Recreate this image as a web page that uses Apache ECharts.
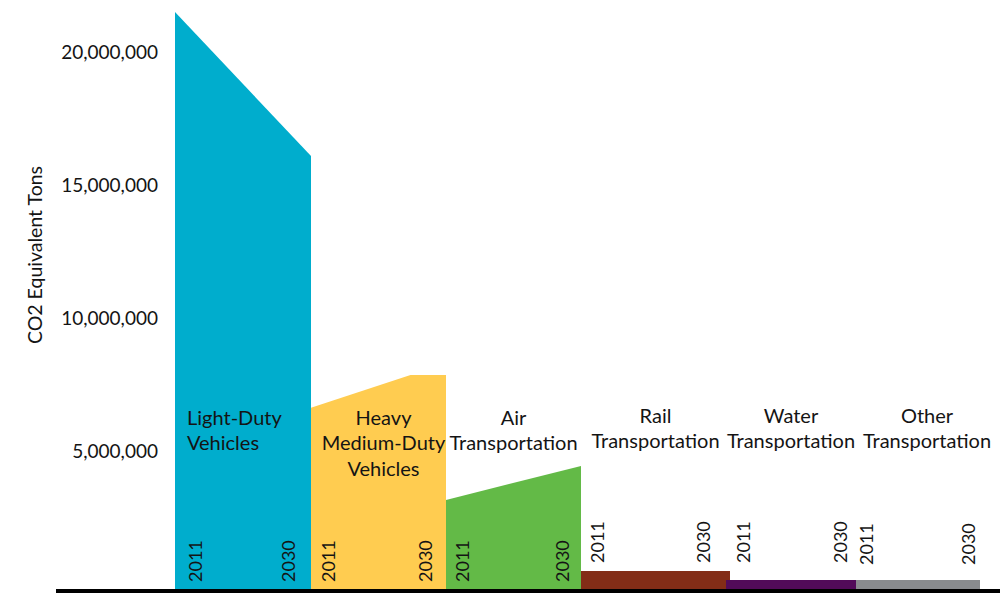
<!DOCTYPE html>
<html>
<head>
<meta charset="utf-8">
<title>Transportation CO2 Equivalent Emissions, 2011 and 2030</title>
<script src="https://cdn.jsdelivr.net/npm/echarts@6/dist/echarts.min.js"></script>
<style>
  html, body { margin: 0; padding: 0; background: #ffffff; }
  #chart { width: 1000px; height: 593px; }
</style>
</head>
<body>
<div id="chart"></div>
<script>
// ---- Data -------------------------------------------------------------
const categories = [
  'Light-Duty Vehicles',
  'Heavy Medium-Duty Vehicles',
  'Air Transportation',
  'Rail Transportation',
  'Water Transportation',
  'Other Transportation'
];
const categoryLines = [
  ['Light-Duty', 'Vehicles'],
  ['Heavy', 'Medium-Duty', 'Vehicles'],
  ['Air', 'Transportation'],
  ['Rail', 'Transportation'],
  ['Water', 'Transportation'],
  ['Other', 'Transportation']
];
const startYear = 2011;
const endYear = 2030;
const yearLabels = ['2011', '2030'];
// CO2 equivalent tons per sector
const emissions2011 = [21500000, 6600000, 3130000, 450000, 110000, 110000];
const emissions2030 = [16080000, 7830000, 4410000, 450000, 110000, 110000];
// heavy/medium-duty reaches its 2030 level around 2025 and stays flat
const heavyPlateau = [2025, 7830000];
const yTickValues = [5000000, 10000000, 15000000, 20000000];
const yAxisTitle = 'CO2 Equivalent Tons';

// ---- Layout & style ---------------------------------------------------
const colors = ['#00ADCD', '#FFCC50', '#63BA47', '#832D17', '#520B59', '#898B8E'];
const panelLeft  = [175, 311, 446, 581, 726, 856];
const panelRight = [311, 446, 581, 730, 856, 980];
const gridTop = 10;
const gridHeight = 579;
const yMin = -225000;
const yMax = 21580000;
const FONT = 'Lato, "Open Sans", "Noto Sans", sans-serif';
const TEXT = '#141414';
// year label offsets from panel edges, and baseline of the year text
const yearOffsets = [[20, -23], [17, -21], [16, -19], [16, -27], [17, -16], [10, -12]];
const yearBottoms = [582, 582, 582, 563, 563, 565];
// category label anchor: x offset from panel centre, top y
const labelDx  = [0, 5, 0, 0, 0, 9];
const labelTop = [404, 404, 404, 402, 402, 402];

const chart = echarts.init(document.getElementById('chart'), null, { renderer: 'svg' });

const grids = [], xAxes = [], yAxes = [], series = [];
categories.forEach((name, i) => {
  grids.push({
    left: panelLeft[i], width: panelRight[i] - panelLeft[i],
    top: gridTop, height: gridHeight,
    containLabel: false, outerBoundsMode: 'none'
  });
  xAxes.push({
    type: 'value', gridIndex: i, min: startYear, max: endYear, show: false
  });
  yAxes.push({
    type: 'value', gridIndex: i, min: yMin, max: yMax,
    show: i === 0,
    axisLine: { show: false },
    axisTick: { show: false },
    splitLine: { show: false },
    axisLabel: {
      show: i === 0,
      customValues: yTickValues,
      margin: 17,
      color: TEXT,
      fontFamily: FONT,
      fontSize: 19,
      formatter: v => Number(v).toLocaleString('en-US')
    }
  });
  const pts = [[startYear, emissions2011[i]]];
  if (i === 1) pts.push(heavyPlateau);
  pts.push([endYear, emissions2030[i]]);
  series.push({
    name: name,
    type: 'line',
    xAxisIndex: i, yAxisIndex: i,
    data: pts,
    symbol: 'none',
    silent: true,
    lineStyle: { width: 0, color: colors[i] },
    itemStyle: { color: colors[i] },
    areaStyle: { color: colors[i], opacity: 1, origin: 'start' },
    z: 2 + i
  });
});

chart.setOption({
  animation: false,
  backgroundColor: '#ffffff',
  grid: grids,
  xAxis: xAxes,
  yAxis: yAxes,
  series: series
});

// ---- Text labels and baseline, placed through the axes' scales --------
const graphics = [];
categories.forEach((name, i) => {
  const pStart = chart.convertToPixel({ gridIndex: i }, [startYear, 0]);
  const pEnd = chart.convertToPixel({ gridIndex: i }, [endYear, 0]);
  const mid = chart.convertToPixel({ gridIndex: i }, [(startYear + endYear) / 2, 0]);
  // rotated year labels
  [pStart[0] + yearOffsets[i][0], pEnd[0] + yearOffsets[i][1]].forEach((x, k) => {
    graphics.push({
      type: 'text', x: x, y: yearBottoms[i], rotation: Math.PI / 2, silent: true, z: 20,
      style: {
        text: yearLabels[k], fill: TEXT, font: '18px ' + FONT,
        textAlign: 'left', textVerticalAlign: 'middle'
      }
    });
  });
  // sector name
  const leftAligned = i === 0;
  graphics.push({
    type: 'text', silent: true, z: 20,
    x: leftAligned ? pStart[0] + 12 : mid[0] + labelDx[i],
    y: labelTop[i],
    style: {
      text: categoryLines[i].join('\n'), fill: TEXT, font: '20px ' + FONT,
      lineHeight: 25.5,
      textAlign: leftAligned ? 'left' : 'center', textVerticalAlign: 'top'
    }
  });
});

// axis title
graphics.push({
  type: 'text', x: 34, y: 255, rotation: Math.PI / 2, silent: true, z: 20,
  style: {
    text: yAxisTitle, fill: TEXT, font: '19.5px ' + FONT,
    textAlign: 'center', textVerticalAlign: 'middle'
  }
});

// baseline along the bottom of the plot
const base = chart.convertToPixel({ gridIndex: 0 }, [startYear, yMin]);
graphics.push({
  type: 'rect', silent: true, z: 30,
  shape: { x: 56, y: base[1], width: 944, height: 8 },
  style: { fill: '#000000' }
});

chart.setOption({ graphic: graphics });
</script>
</body>
</html>
